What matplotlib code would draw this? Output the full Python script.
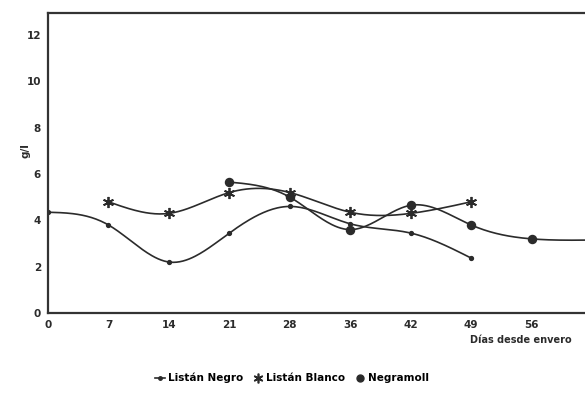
import numpy as np
import matplotlib.pyplot as plt
from matplotlib.lines import Line2D

# days after veraison (category labels, equally spaced on the chart)
dias = ['0', '7', '14', '21', '28', '36', '42', '49', '56', '63']

negro_x = [0, 1, 2, 3, 4, 5, 6, 7]
negro_y = [4.35, 3.8, 2.2, 3.45, 4.6, 3.85, 3.45, 2.37]

blanco_x = [1, 2, 3, 4, 5, 6, 7]
blanco_y = [4.8, 4.3, 5.2, 5.2, 4.35, 4.3, 4.8]

negramoll_x = [3, 4, 5, 6, 7, 8, 9]
negramoll_y = [5.65, 5.0, 3.6, 4.65, 3.8, 3.2, 3.15]

INK = '#2b2b2b'


# natural cubic spline, just to draw the smooth line through the points
def smooth(x, y, n=40):
    x = np.asarray(x, float)
    y = np.asarray(y, float)
    k = len(x)
    h = np.diff(x)
    A = np.zeros((k, k))
    b = np.zeros(k)
    A[0, 0] = A[-1, -1] = 1
    for i in range(1, k - 1):
        A[i, i - 1] = h[i - 1]
        A[i, i] = 2 * (h[i - 1] + h[i])
        A[i, i + 1] = h[i]
        b[i] = 6 * ((y[i + 1] - y[i]) / h[i] - (y[i] - y[i - 1]) / h[i - 1])
    m = np.linalg.solve(A, b)
    xs, ys = [], []
    for i in range(k - 1):
        t = np.linspace(x[i], x[i + 1], n)
        a = (x[i + 1] - t) / h[i]
        c = (t - x[i]) / h[i]
        s = (a * y[i] + c * y[i + 1]
             + ((a ** 3 - a) * m[i] + (c ** 3 - c) * m[i + 1]) * h[i] ** 2 / 6)
        xs.append(t)
        ys.append(s)
    return np.concatenate(xs), np.concatenate(ys)


fig = plt.figure(figsize=(5.85, 4.05), dpi=100)
ax = fig.add_axes([48 / 585, 92 / 405, 570 / 585, 300 / 405])

for xv, yv, mk, ms in [(negro_x, negro_y, 'o', 2.5),
                       (blanco_x, blanco_y, (6, 2, 0), 8),
                       (negramoll_x, negramoll_y, 'o', 5.5)]:
    sx, sy = smooth(xv, yv)
    ax.plot(sx, sy, color=INK, linewidth=1.2)
    ax.plot(xv, yv, linestyle='none', marker=mk, markersize=ms,
            color=INK, markeredgecolor=INK, markeredgewidth=1.3)

ax.set_xlim(0, 66 / 7)
ax.set_ylim(0, 12.95)
ax.set_xticks(range(len(dias)))
ax.set_xticklabels(dias)
ax.set_yticks(range(0, 13, 2))
ax.tick_params(length=0, labelsize=7.5, pad=5, colors=INK)
for lab in ax.get_xticklabels() + ax.get_yticklabels():
    lab.set_fontweight('bold')

for side in ['left', 'bottom', 'top']:
    ax.spines[side].set_linewidth(1.6)
    ax.spines[side].set_color('#333333')
ax.spines['right'].set_visible(False)

ax.set_ylabel('g/l', fontsize=7.5, fontweight='bold', color=INK)
ax.yaxis.set_label_coords(-0.03, 0.54)
fig.text(470 / 585, 65 / 405, 'Días desde envero', fontsize=7,
         fontweight='bold', color=INK, va='center', ha='left')

handles = [Line2D([], [], color=INK, marker='o', markersize=2.5, lw=1.2),
           Line2D([], [], color=INK, marker=(6, 2, 0), markersize=7, lw=0,
                  markeredgewidth=1.2),
           Line2D([], [], color=INK, marker='o', markersize=5, lw=0)]
fig.legend(handles, ['Listán Negro', 'Listán Blanco', 'Negramoll'],
           loc='center', bbox_to_anchor=(292 / 585, 27 / 405), ncol=3,
           frameon=False, handlelength=1.0, handletextpad=0.3,
           columnspacing=0.9, prop={'size': 7.5, 'weight': 'bold'})

fig.savefig('out.png', dpi=100)
